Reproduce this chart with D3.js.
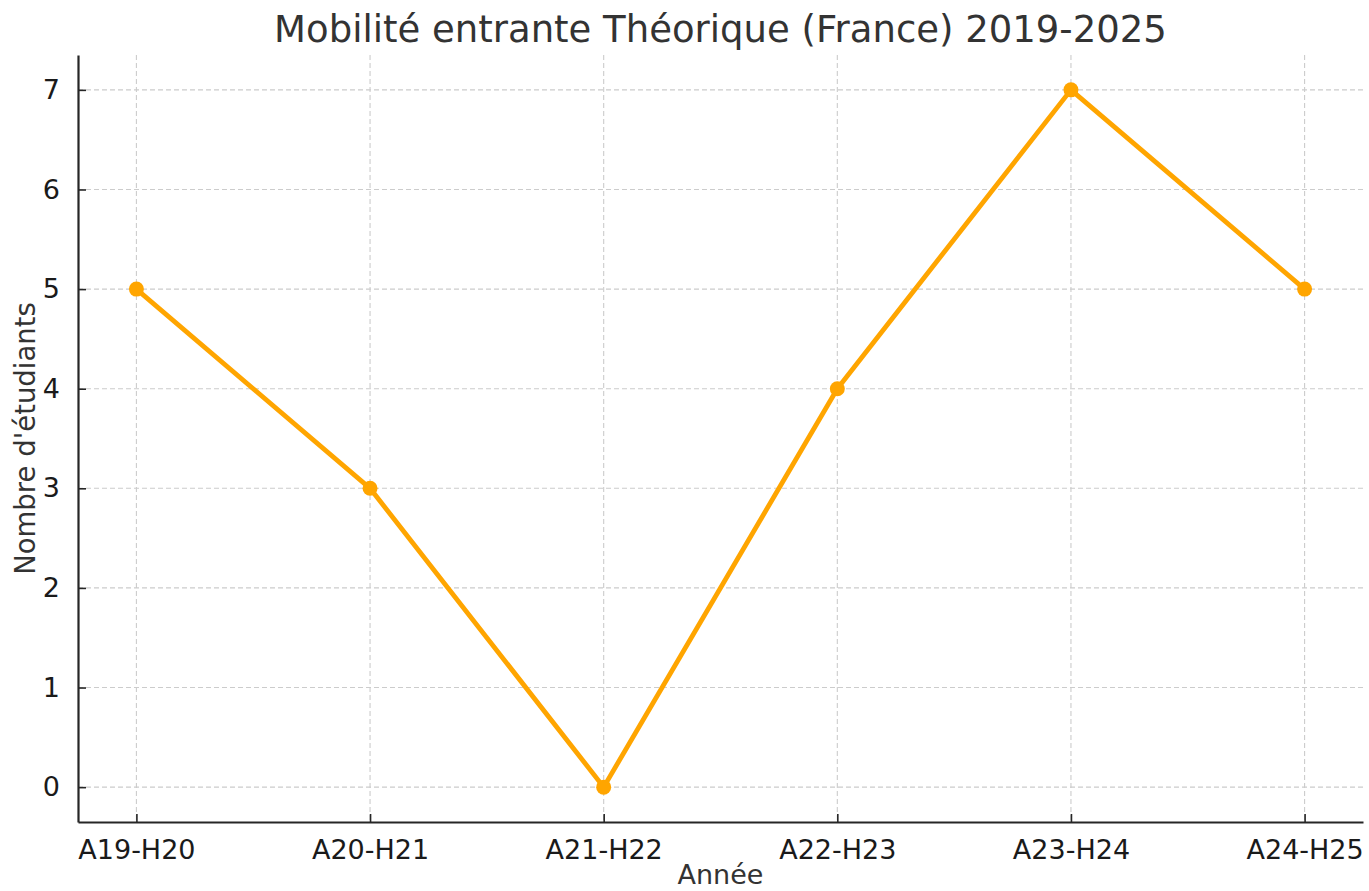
<!DOCTYPE html>
<html>
<head>
<meta charset="utf-8">
<script src="https://cdn.jsdelivr.net/npm/d3@7"></script>
<style>
  html, body { margin: 0; padding: 0; background: #fff; }
  svg { display: block; font-family: 'DejaVu Sans', sans-serif; }
</style>
</head>
<body>
<div id="chart"></div>
<script>
// Données
const categories = ['A19-H20', 'A20-H21', 'A21-H22', 'A22-H23', 'A23-H24', 'A24-H25'];
const values = [5, 3, 0, 4, 7, 5];
const yTicks = [0, 1, 2, 3, 4, 5, 6, 7];

const title = 'Mobilité entrante Théorique (France) 2019-2025';
const xLabel = 'Année';
const yLabel = "Nombre d'étudiants";

const width = 1369, height = 891;
const margin = { top: 55, right: 6, bottom: 69, left: 78 };
const innerW = width - margin.left - margin.right;
const innerH = height - margin.top - margin.bottom;

const svg = d3.select('#chart').append('svg')
    .attr('width', width)
    .attr('height', height);

const g = svg.append('g')
    .attr('transform', `translate(${margin.left},${margin.top})`);

// échelles façon matplotlib (marge de 5 %)
const n = categories.length - 1;
const x = d3.scaleLinear()
    .domain([-0.05 * n, n * 1.05])
    .range([0, innerW]);

const y = d3.scaleLinear()
    .domain([-0.35, 7.35])
    .range([innerH, 0]);

// Grille
const grid = g.append('g').attr('class', 'grid');
grid.selectAll('.gx')
    .data(categories)
    .enter().append('line')
    .attr('x1', (d, i) => x(i)).attr('x2', (d, i) => x(i))
    .attr('y1', 0).attr('y2', innerH)
    .attr('stroke', '#cccccc').attr('stroke-width', 1.1)
    .attr('stroke-dasharray', '5,3');
grid.selectAll('.gy')
    .data(yTicks)
    .enter().append('line')
    .attr('x1', 0).attr('x2', innerW)
    .attr('y1', d => y(d)).attr('y2', d => y(d))
    .attr('stroke', '#cccccc').attr('stroke-width', 1.1)
    .attr('stroke-dasharray', '5,3');

// Axes
const xAxis = d3.axisBottom(x)
    .tickValues(d3.range(categories.length))
    .tickFormat(i => categories[i])
    .tickSizeInner(-8).tickSizeOuter(0).tickPadding(18);
const yAxis = d3.axisLeft(y)
    .tickValues(yTicks)
    .tickSizeInner(-8).tickSizeOuter(0).tickPadding(18);

const gx = g.append('g')
    .attr('transform', `translate(0,${innerH})`)
    .call(xAxis);
const gy = g.append('g').call(yAxis);

[gx, gy].forEach(ax => {
    ax.select('.domain').attr('stroke', '#262626').attr('stroke-width', 2.2);
    ax.selectAll('.tick line').attr('stroke', '#262626').attr('stroke-width', 1.6);
    ax.selectAll('.tick text')
        .attr('fill', '#1a1a1a')
        .attr('font-size', '27px')
        .attr('font-family', "'DejaVu Sans', sans-serif");
});
gx.selectAll('.tick text').attr('dy', '0.71em');

// Ligne
const line = d3.line()
    .x((d, i) => x(i))
    .y(d => y(d));

g.append('path')
    .datum(values)
    .attr('d', line)
    .attr('fill', 'none')
    .attr('stroke', '#FFA500')
    .attr('stroke-width', 4.8)
    .attr('stroke-linejoin', 'round');

g.selectAll('.pt')
    .data(values)
    .enter().append('circle')
    .attr('cx', (d, i) => x(i))
    .attr('cy', d => y(d))
    .attr('r', 7.5)
    .attr('fill', '#FFA500');

// Titres
svg.append('text')
    .attr('x', margin.left + innerW / 2)
    .attr('y', 42)
    .attr('text-anchor', 'middle')
    .attr('fill', '#333')
    .attr('font-size', '37px')
    .text(title);

svg.append('text')
    .attr('x', margin.left + innerW / 2)
    .attr('y', 884)
    .attr('text-anchor', 'middle')
    .attr('fill', '#333')
    .attr('font-size', '27px')
    .text(xLabel);

svg.append('text')
    .attr('transform', `translate(35,${margin.top + innerH / 2}) rotate(-90)`)
    .attr('text-anchor', 'middle')
    .attr('fill', '#333')
    .attr('font-size', '27.5px')
    .text(yLabel);
</script>
</body>
</html>
